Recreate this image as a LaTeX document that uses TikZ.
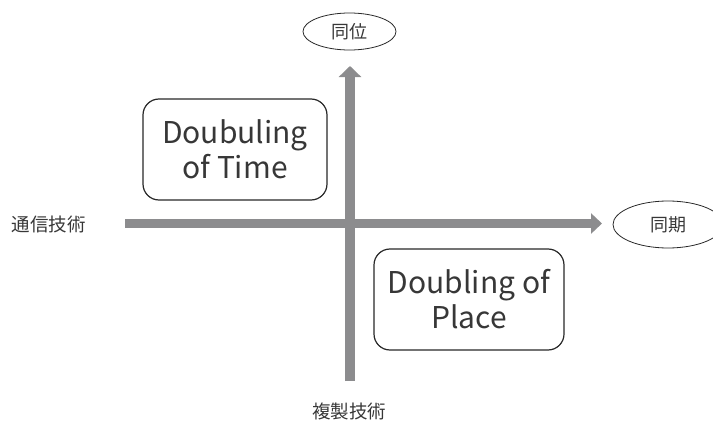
\documentclass[tikz,border=0pt]{standalone}
\usepackage{fontspec}
\setmainfont{Noto Sans CJK JP}
\usetikzlibrary{shapes.geometric,arrows.meta}
\definecolor{txt}{RGB}{55,55,55}
\definecolor{arr}{RGB}{140,140,142}
\definecolor{edge}{RGB}{40,40,40}
\tikzset{
  lab/.style={text=txt, font=\fontsize{18.5}{20}\selectfont, inner sep=0pt},
  oval/.style={ellipse, draw=edge, line width=0.8pt, inner sep=0pt, text=txt, font=\fontsize{18}{20}\selectfont},
  quad/.style={draw=edge, line width=1.2pt, rounded corners=16pt, inner sep=0pt, text=txt,
    align=center, font=\fontsize{30}{35}\selectfont},
  axis/.style={draw=arr, line width=#1},
}
\begin{document}
\begin{tikzpicture}[x=1pt,y=-1pt]
\useasboundingbox (0,0) rectangle (713,431);
\begin{scope}
\clip (0,0) rectangle (713,431);
% labels
\node[lab] (tsushin) at (49,224) {通信技術};
\node[lab] (fukusei) at (349,411) {複製技術};
\node[oval, minimum width=93pt, minimum height=37pt] (doui) at (349.5,31.5) {同位};
\node[oval, minimum width=110pt, minimum height=47pt] (douki) at (668,224.5) {同期};
% boxes
\node[quad, minimum width=184pt, minimum height=101pt] (time) at (235,149.5) {Doubuling\\of Time};
\node[quad, minimum width=190pt, minimum height=101pt] (place) at (469,299.5) {Doubling of\\Place};
% arrows
\coordinate (hs) at (125,223.5);
\coordinate (he) at (602,223.5);
\coordinate (vs) at (350,381);
\coordinate (ve) at (350,66);
\draw[axis=9pt, -{Triangle[width=20pt,length=11pt]}, arr] (hs) -- (he);
\draw[axis=10.5pt, -{Triangle[width=22pt,length=11pt]}, arr] (vs) -- (ve);
\end{scope}
\end{tikzpicture}
\end{document}
